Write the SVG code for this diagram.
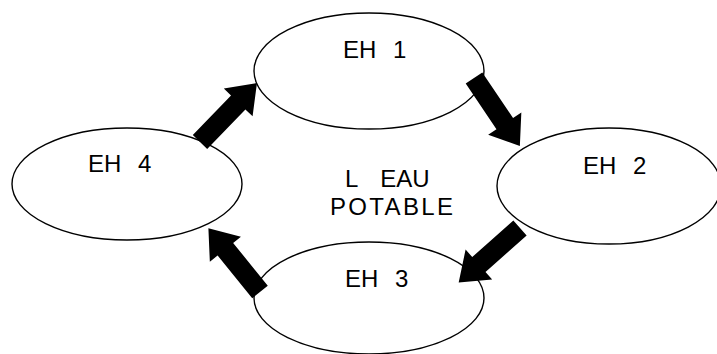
<svg xmlns="http://www.w3.org/2000/svg" width="717" height="354" viewBox="0 0 717 354">
  <style>
    .node ellipse { fill: #fff; stroke: #000; stroke-width: 1.4; }
    .lbl { font-family: "Liberation Sans", Arial, sans-serif; font-size: 24px; fill: #000; word-spacing: 10px; }
    .arrow { fill: #000; }
  </style>
  <defs>
    <!-- block arrow pointing along +x, tail at origin -->
    <path id="blockArrow" d="M0,-10 H55 V-20 L82,0 L55,20 V10 H0 Z"/>
  </defs>

  <rect width="717" height="354" fill="#fff"/>

  <g id="eh1" class="node">
    <ellipse cx="369" cy="71" rx="115" ry="58"/>
    <text class="lbl" x="343" y="58">EH 1</text>
  </g>
  <g id="eh2" class="node">
    <ellipse cx="609" cy="186" rx="112" ry="58"/>
    <text class="lbl" x="583" y="174">EH 2</text>
  </g>
  <g id="eh3" class="node">
    <ellipse cx="369" cy="298" rx="115" ry="56"/>
    <text class="lbl" x="345" y="287">EH 3</text>
  </g>
  <g id="eh4" class="node">
    <ellipse cx="127" cy="184" rx="115" ry="56"/>
    <text class="lbl" x="88" y="172">EH 4</text>
  </g>

  <g id="center-label">
    <text class="lbl" x="345" y="187" style="word-spacing:16px">L EAU</text>
    <text class="lbl" x="330" y="215" textLength="123" lengthAdjust="spacing">POTABLE</text>
  </g>

  <g id="connectors" class="arrow">
    <use href="#blockArrow" transform="translate(200,142) rotate(-46)"/>
    <use href="#blockArrow" transform="translate(474,78) rotate(56)"/>
    <use href="#blockArrow" transform="translate(520,228) rotate(138.4)"/>
    <use href="#blockArrow" transform="translate(260,292) rotate(231)"/>
  </g>
</svg>
